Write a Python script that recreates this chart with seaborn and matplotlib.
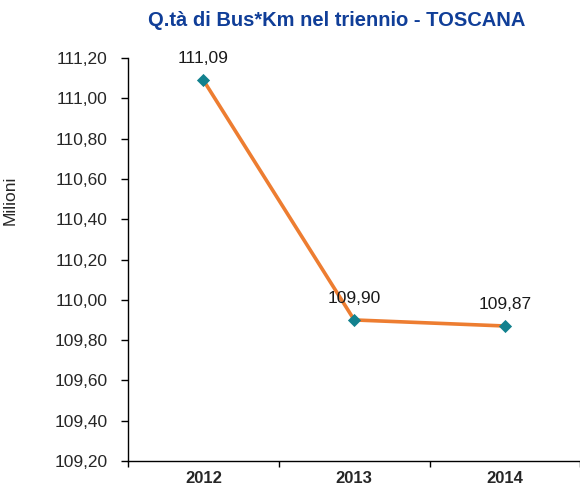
import matplotlib
matplotlib.use("Agg")
import matplotlib.pyplot as plt
import seaborn as sns
import pandas as pd
from matplotlib.ticker import FuncFormatter, FixedLocator

years = ["2012", "2013", "2014"]
values = [111.09, 109.90, 109.87]
title = "Q.tà di Bus*Km nel triennio - TOSCANA"
ylabel = "Milioni"

sns.set_style("white")
plt.rcParams['font.family'] = ['Liberation Sans', 'DejaVu Sans']

df = pd.DataFrame({"anno": years, "valore": values})

fig = plt.figure(figsize=(5.8, 4.9), dpi=100)
ax = fig.add_axes([0.2207, 0.0592, 0.78, 0.8224])

sns.pointplot(data=df, x="anno", y="valore", ax=ax, color="#ED7D31",
              markers="D", linewidth=2.6, markersize=0, errorbar=None)
ax.scatter(range(len(years)), values, marker="D", s=45, color="#12818E",
           zorder=5, linewidths=0)

for i, v in enumerate(values):
    ax.annotate(f"{v:.2f}".replace(".", ","), (i, v), xytext=(0, 10),
                textcoords="offset points", ha="center", va="bottom",
                fontsize=12.5, color="#1a1a1a")

ax.set_ylim(109.2, 111.2)
ax.set_yticks([109.2 + 0.2 * k for k in range(11)])
ax.yaxis.set_major_formatter(FuncFormatter(lambda v, p: f"{v:.2f}".replace(".", ",")))
ax.set_xlim(-0.5, 2.5)
ax.xaxis.set_minor_locator(FixedLocator([-0.5, 0.5, 1.5, 2.5]))
ax.tick_params(axis="x", which="major", length=0, pad=7, labelsize=12)
ax.tick_params(axis="x", which="minor", length=4, width=1, direction="out", color="black")
ax.tick_params(axis="y", which="major", length=5, width=1, direction="out",
               color="black", labelsize=12.5, pad=9.5)
ax.tick_params(left=True, bottom=True, which="both")
for lab in ax.get_xticklabels():
    lab.set_fontweight("bold")

ax.set_xlabel("")
ax.set_ylabel(ylabel, fontsize=12.5)
ax.yaxis.set_label_coords(-0.243, 0.648)
for s in ["top", "right"]:
    ax.spines[s].set_visible(False)
for s in ["left", "bottom"]:
    ax.spines[s].set_color("black")
    ax.spines[s].set_linewidth(1)

fig.text(0.58, 0.958, title, ha="center", va="center", fontsize=14.5,
         fontweight="bold", color="#103E98")

fig.savefig("out.png", dpi=100)
